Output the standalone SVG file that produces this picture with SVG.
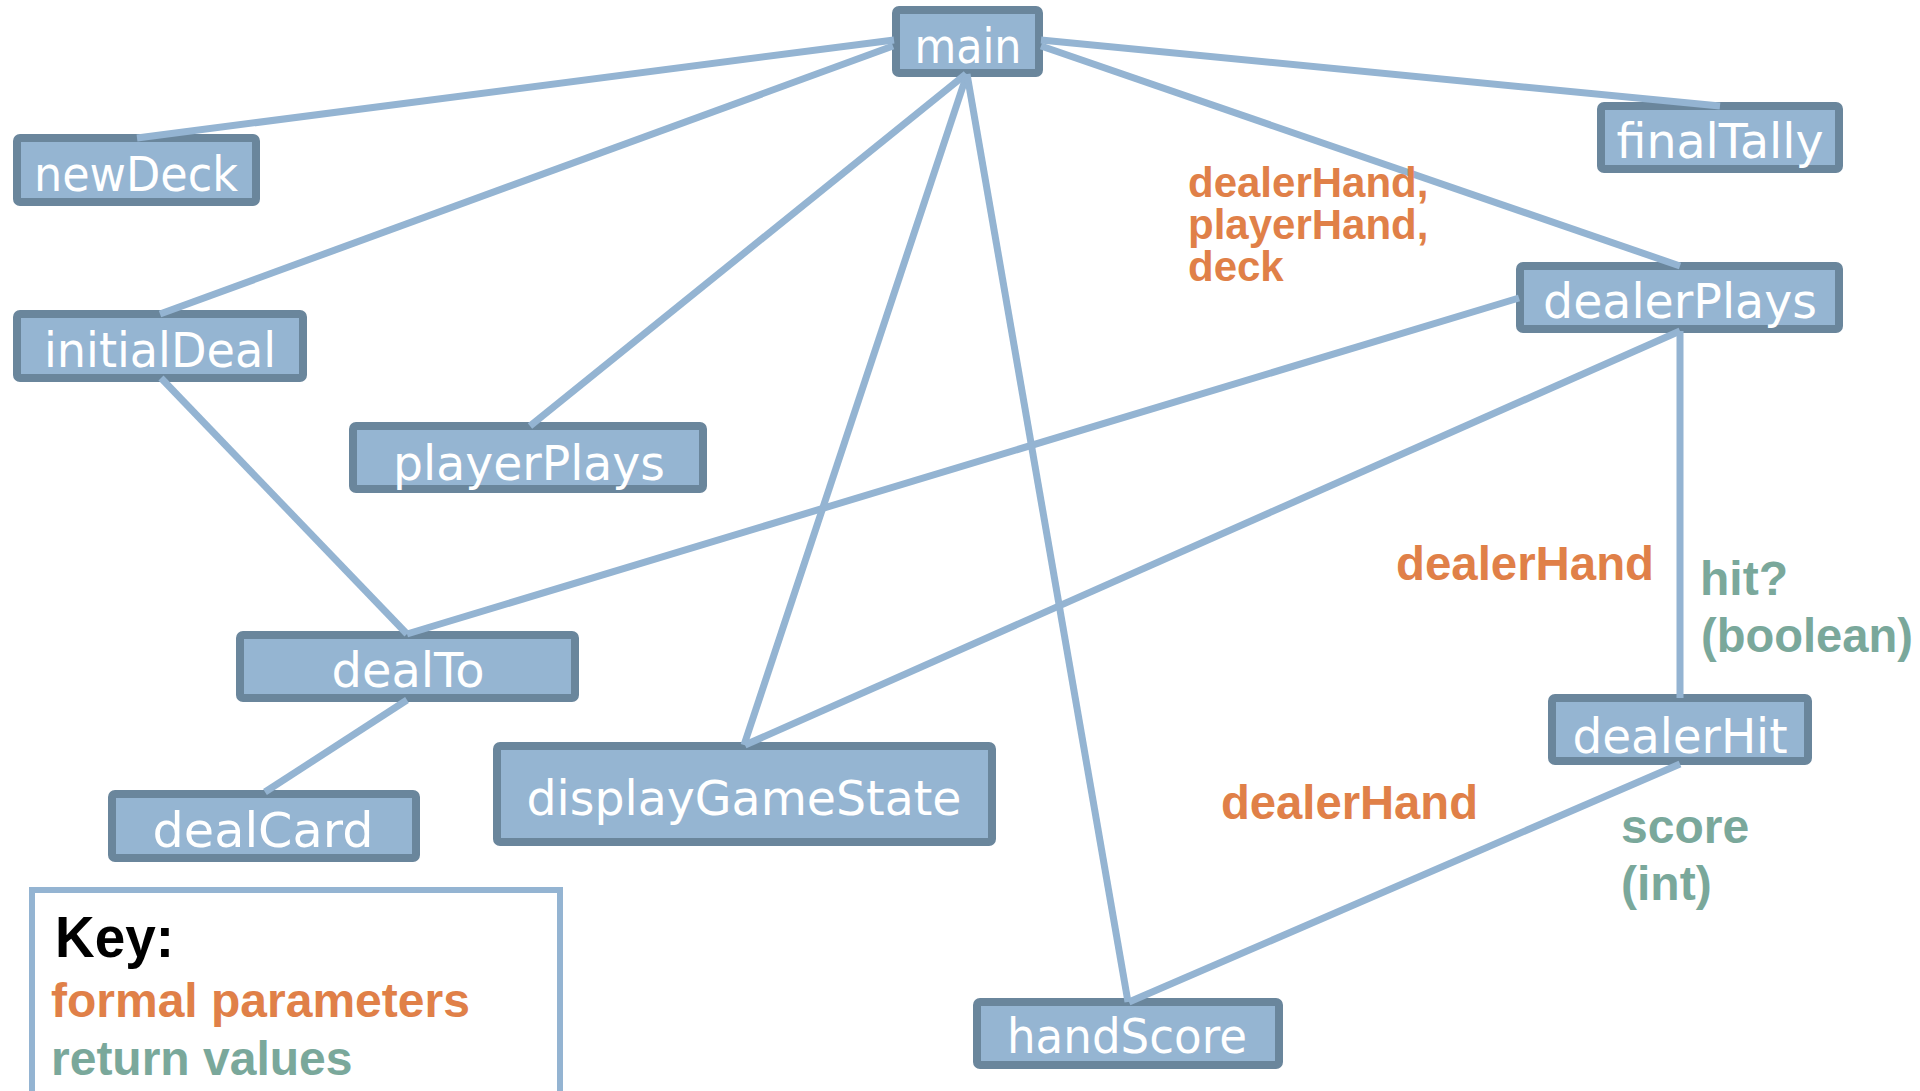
<svg xmlns="http://www.w3.org/2000/svg" width="1920" height="1091" viewBox="0 0 1920 1091">
<style>
.node rect{fill:#95B5D2;stroke:#6A869C;stroke-width:8;}
.node text{fill:#ffffff;font-family:"DejaVu Sans",sans-serif;font-size:48px;text-anchor:middle;}
.conn line{stroke:#94B4D2;stroke-width:7;stroke-linecap:butt;}
.lbl{font-family:"Liberation Sans",Arial,sans-serif;font-weight:bold;}
.param{fill:#E08048;}
.ret{fill:#7AA89B;}
</style>
<rect x="0" y="0" width="1920" height="1091" fill="#ffffff"/>
<g id="nodes">
<g id="main" class="node"><rect x="896" y="10" width="143" height="63" rx="3"/><text x="968" y="63" textLength="107" lengthAdjust="spacingAndGlyphs">main</text></g>
<g id="newDeck" class="node"><rect x="17" y="138" width="239" height="64" rx="3"/><text x="136" y="191" textLength="204" lengthAdjust="spacingAndGlyphs">newDeck</text></g>
<g id="initialDeal" class="node"><rect x="17" y="314" width="286" height="64" rx="3"/><text x="160" y="367" textLength="232" lengthAdjust="spacingAndGlyphs">initialDeal</text></g>
<g id="playerPlays" class="node"><rect x="353" y="426" width="350" height="63" rx="3"/><text x="529" y="480" textLength="272" lengthAdjust="spacingAndGlyphs">playerPlays</text></g>
<g id="finalTally" class="node"><rect x="1601" y="106" width="238" height="63" rx="3"/><text x="1720" y="158" textLength="207" lengthAdjust="spacingAndGlyphs">finalTally</text></g>
<g id="dealerPlays" class="node"><rect x="1520" y="266" width="319" height="63" rx="3"/><text x="1680" y="318" textLength="274" lengthAdjust="spacingAndGlyphs">dealerPlays</text></g>
<g id="dealTo" class="node"><rect x="240" y="635" width="335" height="63" rx="3"/><text x="408" y="687" textLength="153" lengthAdjust="spacingAndGlyphs">dealTo</text></g>
<g id="dealCard" class="node"><rect x="112" y="794" width="304" height="64" rx="3"/><text x="263" y="847" textLength="221" lengthAdjust="spacingAndGlyphs">dealCard</text></g>
<g id="displayGameState" class="node"><rect x="497" y="746" width="495" height="96" rx="3"/><text x="744" y="815" textLength="435" lengthAdjust="spacingAndGlyphs">displayGameState</text></g>
<g id="dealerHit" class="node"><rect x="1552" y="698" width="256" height="63" rx="3"/><text x="1680" y="753" textLength="215" lengthAdjust="spacingAndGlyphs">dealerHit</text></g>
<g id="handScore" class="node"><rect x="977" y="1002" width="302" height="63" rx="3"/><text x="1127" y="1053" textLength="240" lengthAdjust="spacingAndGlyphs">handScore</text></g>
</g>
<g id="connectors" class="conn">
<line x1="894" y1="40" x2="137" y2="138"/>
<line x1="893" y1="46" x2="160" y2="314"/>
<line x1="966" y1="74" x2="530" y2="426"/>
<line x1="967" y1="74" x2="744" y2="745"/>
<line x1="967" y1="74" x2="1128" y2="1002"/>
<line x1="1041" y1="40" x2="1720" y2="106"/>
<line x1="1041" y1="46" x2="1680" y2="266"/>
<line x1="1519" y1="298" x2="407" y2="634"/>
<line x1="1680" y1="331" x2="745" y2="745"/>
<line x1="1680" y1="331" x2="1680" y2="698"/>
<line x1="161" y1="378" x2="407" y2="634"/>
<line x1="407" y1="700" x2="265" y2="792"/>
<line x1="1680" y1="764" x2="1129" y2="1002"/>
</g>
<g id="labels" class="lbl">
<text class="param" font-size="42" x="1188" y="197">dealerHand,</text>
<text class="param" font-size="42" x="1188" y="239">playerHand,</text>
<text class="param" font-size="42" x="1188" y="281">deck</text>
<text class="param" font-size="48" x="1396" y="580" textLength="258" lengthAdjust="spacingAndGlyphs">dealerHand</text>
<text class="ret" font-size="48" x="1700" y="595">hit?</text>
<text class="ret" font-size="48" x="1701" y="652" textLength="212" lengthAdjust="spacingAndGlyphs">(boolean)</text>
<text class="param" font-size="48" x="1221" y="819" textLength="257" lengthAdjust="spacingAndGlyphs">dealerHand</text>
<text class="ret" font-size="48" x="1621" y="843">score</text>
<text class="ret" font-size="48" x="1621" y="900">(int)</text>
</g>
<g id="key">
<rect x="32" y="890" width="528" height="230" fill="none" stroke="#94B4D2" stroke-width="6"/>
<text class="lbl" font-size="58" x="55" y="957" fill="#000000" textLength="119" lengthAdjust="spacingAndGlyphs">Key:</text>
<text class="lbl param" font-size="48" x="51" y="1017">formal parameters</text>
<text class="lbl ret" font-size="48" x="51" y="1075">return values</text>
</g>
</svg>
